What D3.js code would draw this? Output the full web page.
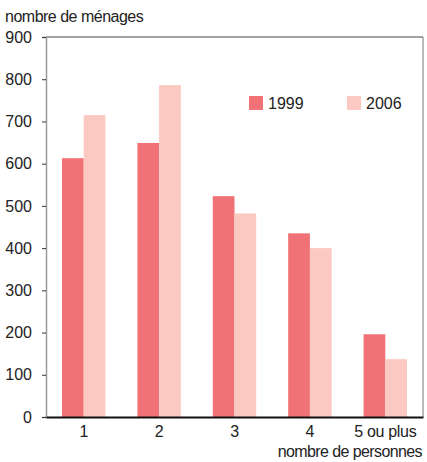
<!DOCTYPE html>
<html>
<head>
<meta charset="utf-8">
<script src="https://cdn.jsdelivr.net/npm/d3@7"></script>
<style>
  body { margin: 0; background: #fff; }
  text { font-family: "Liberation Sans", Arial, sans-serif; fill: #222; }
</style>
</head>
<body>
<div id="chart"></div>
<script>
const categories = ["1", "2", "3", "4", "5 ou plus"];
const series = ["1999", "2006"];
const values1999 = [613, 649, 523, 435, 196];
const values2006 = [715, 786, 482, 400, 137];
const yTicks = [0, 100, 200, 300, 400, 500, 600, 700, 800, 900];
const colors = ["#f07276", "#fbc9c1"];

const width = 427, height = 462;
const margin = {top: 37, right: 4, bottom: 45, left: 46};
const innerWidth = width - margin.left - margin.right;
const innerHeight = height - margin.top - margin.bottom;

const svg = d3.select("#chart").append("svg")
    .attr("width", width)
    .attr("height", height);

const g = svg.append("g")
    .attr("transform", `translate(${margin.left},${margin.top})`);

const x = d3.scaleBand().domain(categories).range([0, innerWidth]);
const y = d3.scaleLinear().domain([0, 900]).range([innerHeight, 0]);
const barW = x.bandwidth() * 0.288;

const rows = categories.map((c, i) => ({cat: c, vals: [values1999[i], values2006[i]]}));

// bars
const grp = g.selectAll(".grp").data(rows).join("g")
    .attr("transform", d => `translate(${x(d.cat) + x.bandwidth() / 2},0)`);
grp.selectAll("rect").data(d => d.vals).join("rect")
    .attr("x", (d, i) => i === 0 ? -barW : 0)
    .attr("width", barW)
    .attr("y", d => y(d))
    .attr("height", d => innerHeight - y(d))
    .attr("fill", (d, i) => colors[i]);

// frame: top and right
g.append("line").attr("x1", 0).attr("x2", innerWidth).attr("y1", 0).attr("y2", 0)
    .attr("stroke", "#444").attr("stroke-width", 1);
g.append("line").attr("x1", innerWidth).attr("x2", innerWidth).attr("y1", 0).attr("y2", innerHeight)
    .attr("stroke", "#777").attr("stroke-width", 1);

// y axis
const yAxis = g.append("g")
    .call(d3.axisLeft(y).tickValues(yTicks).tickSize(4).tickPadding(10));
yAxis.select(".domain").attr("stroke", "#999").attr("stroke-width", 1.5);
yAxis.selectAll(".tick line").attr("stroke", "#333");
yAxis.selectAll(".tick text")
    .attr("font-size", 16)
    .attr("fill", "#222")
    .style("font-family", "Liberation Sans, Arial, sans-serif");

// x axis
const xAxis = g.append("g")
    .attr("transform", `translate(0,${innerHeight})`)
    .call(d3.axisBottom(x).tickSize(0).tickPadding(9));
xAxis.select(".domain").attr("stroke", "#111").attr("stroke-width", 2);
xAxis.selectAll(".tick text")
    .attr("font-size", 16)
    .attr("fill", "#222")
    .style("letter-spacing", "-0.3px")
    .style("font-family", "Liberation Sans, Arial, sans-serif");

// axis titles
svg.append("text")
    .attr("x", 5).attr("y", 22)
    .attr("font-size", 16)
    .style("letter-spacing", "-0.5px")
    .text("nombre de ménages");
svg.append("text")
    .attr("x", width - 5).attr("y", 457)
    .attr("text-anchor", "end")
    .attr("font-size", 16)
    .style("letter-spacing", "-0.6px")
    .text("nombre de personnes");

// legend
const legend = svg.append("g").attr("transform", "translate(249,96)");
const li = legend.selectAll("g").data(series).join("g")
    .attr("transform", (d, i) => `translate(${i * 98},0)`);
li.append("rect").attr("width", 14).attr("height", 14).attr("fill", (d, i) => colors[i]);
li.append("text").attr("x", 19).attr("y", 13).attr("font-size", 16).text(d => d);
</script>
</body>
</html>
